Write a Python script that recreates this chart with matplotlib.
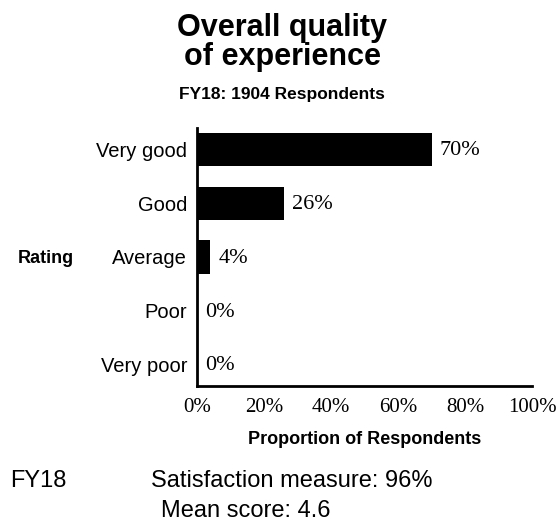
import matplotlib
matplotlib.use("Agg")
from matplotlib import pyplot as plt

# data
categories = ["Very good", "Good", "Average", "Poor", "Very poor"]
values = [70, 26, 4, 0, 0]
xticks = [0, 20, 40, 60, 80, 100]
xticklabels = ["0%", "20%", "40%", "60%", "80%", "100%"]

W, H = 556, 523
fig = plt.figure(figsize=(W / 100, H / 100), dpi=100)
ax = fig.add_axes([197 / W, 1 - 386 / H, (532 - 197) / W, (386 - 128) / H])

sans = "Liberation Sans"
serif = "Liberation Serif"

ypos = list(range(len(categories)))
ax.barh(ypos, values, height=0.62, color="black")
ax.set_xlim(0, 100)
ax.set_ylim(4.4, -0.4)

for y, v in zip(ypos, values):
    ax.annotate(f"{v}%", (v, y), xytext=(6, -1), textcoords="offset points",
                va="center", ha="left", fontsize=16, family=serif)

ax.set_yticks(ypos)
ax.set_yticklabels(categories, fontsize=14.5, family=sans)
ax.set_xticks(xticks)
ax.set_xticklabels(xticklabels, fontsize=15, family=serif)
ax.tick_params(axis="both", length=0)
ax.tick_params(axis="y", pad=7)
ax.tick_params(axis="x", pad=9)

for s in ["top", "right"]:
    ax.spines[s].set_visible(False)
for s in ["left", "bottom"]:
    ax.spines[s].set_linewidth(2)

ax.set_xlabel("Proportion of Respondents", fontsize=13, family=sans,
              fontweight="bold", labelpad=10)

fig.text(46 / W, 1 - 258 / H, "Rating", ha="center", va="center",
         fontsize=13, family=sans, fontweight="bold")

# titles
fig.text(282 / W, 1 - 36 / H, "Overall quality", ha="center", va="baseline",
         fontsize=22, family=sans, fontweight="bold")
fig.text(282 / W, 1 - 65 / H, "of experience", ha="center", va="baseline",
         fontsize=22, family=sans, fontweight="bold")
fig.text(282 / W, 1 - 99 / H, "FY18: 1904 Respondents", ha="center",
         va="baseline", fontsize=12.5, family=sans, fontweight="bold")

# footer
fig.text(10 / W, 1 - 487 / H, "FY18", ha="left", va="baseline",
         fontsize=17, family=sans)
fig.text(151 / W, 1 - 487 / H, "Satisfaction measure: 96%", ha="left",
         va="baseline", fontsize=17, family=sans)
fig.text(161 / W, 1 - 517 / H, "Mean score: 4.6", ha="left",
         va="baseline", fontsize=17, family=sans)

fig.savefig("out.png", dpi=100)
